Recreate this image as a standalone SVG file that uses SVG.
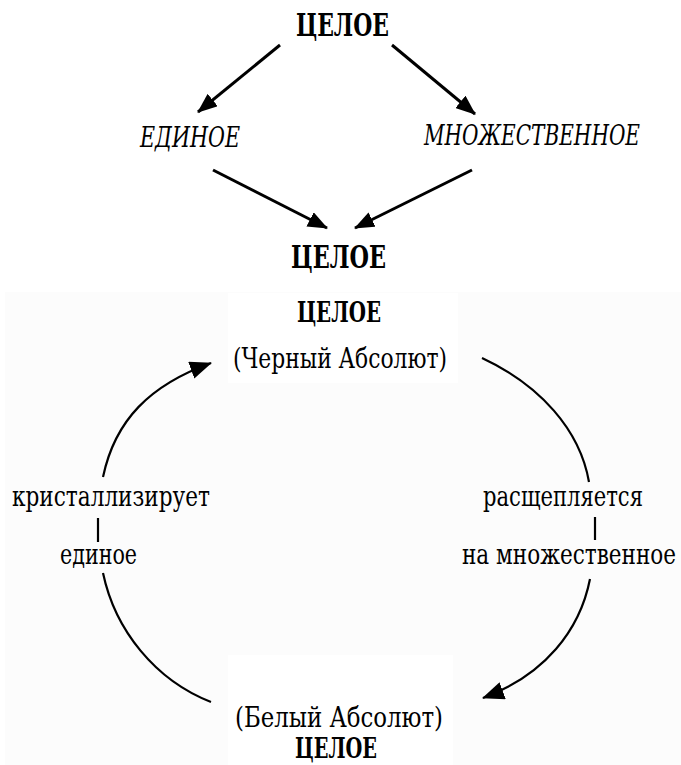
<svg xmlns="http://www.w3.org/2000/svg" width="681" height="765" viewBox="0 0 681 765">
<style>
text{font-family:'DejaVu Serif','Liberation Serif',serif;font-stretch:condensed;fill:#000}
.bold{font-weight:bold;font-size:31px}
.ital{font-style:italic;font-size:27px}
.reg{font-size:28px}
.bold2{font-weight:bold;font-size:28px}
.st{fill:none;stroke:#000;stroke-width:3}
.cv{fill:none;stroke:#000;stroke-width:2.2}
</style>
<defs>
<marker id="ah" markerUnits="userSpaceOnUse" viewBox="0 0 20 16" refX="19" refY="8" markerWidth="20" markerHeight="16" orient="auto">
<path d="M0,0 L20,8 L0,16 z" fill="#000"/>
</marker>
<marker id="ah2" markerUnits="userSpaceOnUse" viewBox="0 0 22 18" refX="21" refY="9" markerWidth="22" markerHeight="18" orient="auto">
<path d="M0,0 L22,9 L0,18 z" fill="#000"/>
</marker>
</defs>
<rect width="681" height="765" fill="#fff"/>
<rect x="5" y="292" width="676" height="473" fill="#fcfcfc"/>
<rect x="228" y="293" width="230" height="90" fill="#fff"/>
<rect x="228" y="655" width="225" height="110" fill="#fff"/>

<g id="connectors">
<path class="st" d="M280,45 L198,112" marker-end="url(#ah)"/>
<path class="st" d="M392,45 L475,114" marker-end="url(#ah)"/>
<path class="st" d="M213,170 L327,228" marker-end="url(#ah)"/>
<path class="st" d="M472,170 L355,228" marker-end="url(#ah)"/>
<path class="cv" d="M103,477 C115,420 150,385 211,363" marker-end="url(#ah2)"/>
<path class="cv" d="M482,358 C540,385 580,430 589,482"/>
<path class="cv" d="M98,518 L98,542"/>
<path class="cv" d="M595,517 L595,540"/>
<path class="cv" d="M590,579 C580,630 545,675 483,698" marker-end="url(#ah2)"/>
<path class="cv" d="M103,573 C115,630 155,680 211,702"/>
</g>

<g id="n-top"><text class="bold" x="296" y="36" textLength="93" lengthAdjust="spacingAndGlyphs">ЦЕЛОЕ</text></g>
<g id="n-edinoe"><text class="ital" x="140" y="147" textLength="100" lengthAdjust="spacingAndGlyphs">ЕДИНОЕ</text></g>
<g id="n-mnozh"><text class="ital" x="640" y="145" text-anchor="end" textLength="216" lengthAdjust="spacingAndGlyphs">МНОЖЕСТВЕННОЕ</text></g>
<g id="n-mid"><text class="bold" x="291" y="268" textLength="95" lengthAdjust="spacingAndGlyphs">ЦЕЛОЕ</text></g>
<g id="n-black">
<text class="bold2" x="297" y="322" textLength="84" lengthAdjust="spacingAndGlyphs">ЦЕЛОЕ</text>
<text class="reg" x="233" y="368" textLength="214" lengthAdjust="spacingAndGlyphs">(Черный Абсолют)</text>
</g>
<g id="n-left">
<text class="reg" x="12" y="506" textLength="198" lengthAdjust="spacingAndGlyphs">кристаллизирует</text>
<text class="reg" x="60" y="564" textLength="77" lengthAdjust="spacingAndGlyphs">единое</text>
</g>
<g id="n-right">
<text class="reg" x="483" y="506" textLength="160" lengthAdjust="spacingAndGlyphs">расщепляется</text>
<text class="reg" x="676" y="564" text-anchor="end" textLength="214" lengthAdjust="spacingAndGlyphs">на множественное</text>
</g>
<g id="n-white">
<text class="reg" x="235" y="727" textLength="208" lengthAdjust="spacingAndGlyphs">(Белый Абсолют)</text>
<text class="bold2" x="295" y="758" textLength="82" lengthAdjust="spacingAndGlyphs">ЦЕЛОЕ</text>
</g>
</svg>
